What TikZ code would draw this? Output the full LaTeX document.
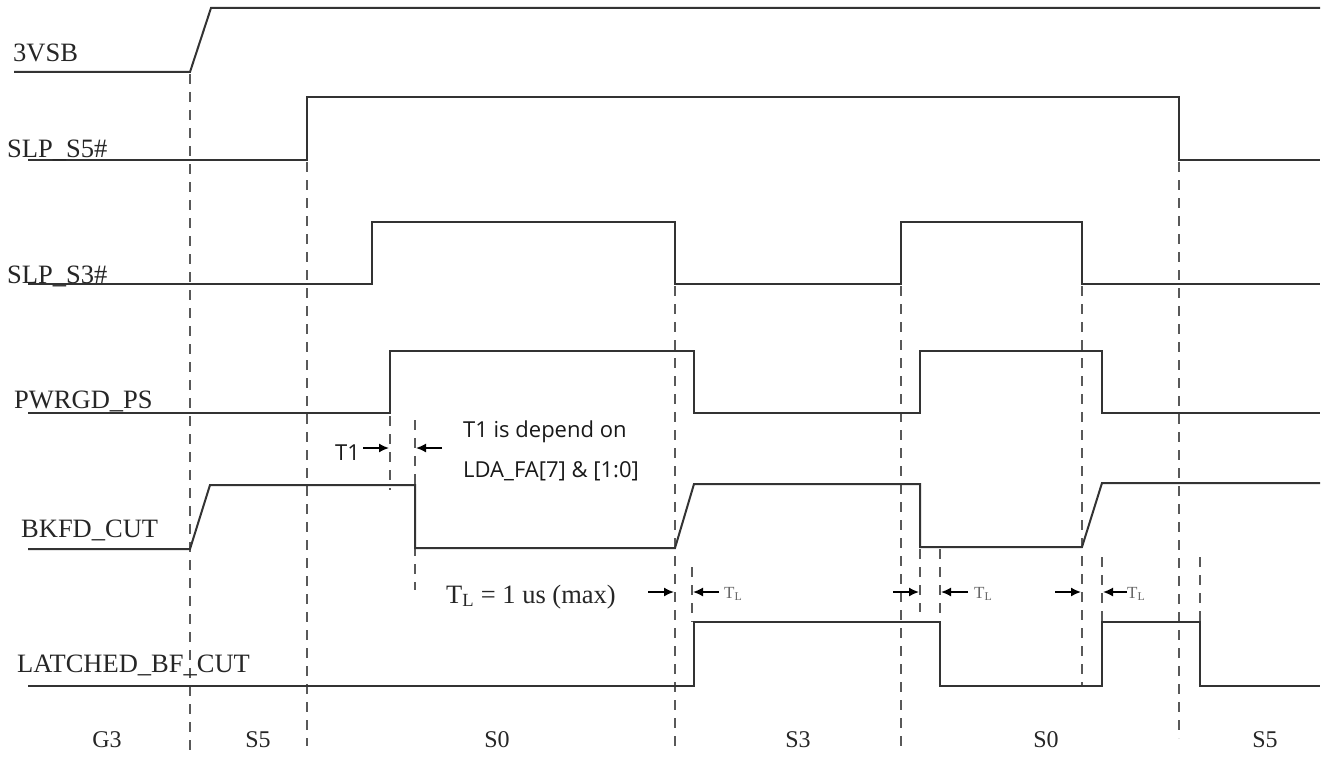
\documentclass[tikz,border=0pt]{standalone}
\usepackage{fontspec}
\setmainfont{Liberation Serif}
\newfontfamily\sansT{Open Sans}
\usetikzlibrary{arrows.meta}
\tikzset{
  sig/.style={line width=2pt, draw=black!80, line join=miter},
  guide/.style={line width=2pt, draw=black!65, dash pattern=on 10pt off 8pt},
  marker/.style={line width=1.6pt, draw=black, -{Latex[length=10pt,width=9pt]}},
  siglabel/.style={anchor=base west, inner sep=0pt, text=black!85, font=\fontsize{26.5}{30}\selectfont},
  statelabel/.style={anchor=base, inner sep=0pt, text=black!85, font=\fontsize{24}{28}\selectfont},
  note/.style={anchor=base west, inner sep=0pt, text=black!90, font=\sansT\fontsize{22}{26}\selectfont},
  tl/.style={anchor=base west, inner sep=0pt, text=black!60, font=\fontsize{17}{19}\selectfont}
}
\begin{document}
\begin{tikzpicture}[x=1pt,y=-1pt]
\useasboundingbox (0,0) rectangle (1323,760);
% guide (dashed) lines
\draw[guide] (190,74) -- (190,750);
\draw[guide] (307,162) -- (307,746);
\draw[guide] (390,416) -- (390,490);
\draw[guide] (415,420) -- (415,590);
\draw[guide] (675,286) -- (675,750);
\draw[guide] (692,567) -- (692,622);
\draw[guide] (901,286) -- (901,750);
\draw[guide] (920,549) -- (920,612);
\draw[guide] (940,549) -- (940,622);
\draw[guide] (1082,286) -- (1082,686);
\draw[guide] (1102,557) -- (1102,622);
\draw[guide] (1179,162) -- (1179,738);
\draw[guide] (1200,557) -- (1200,622);
% signals
\draw[sig] (14,72) -- (190,72) -- (211,8) -- (1320,8);
\draw[sig] (28,160) -- (307,160) -- (307,97) -- (1179,97) -- (1179,160) -- (1320,160);
\draw[sig] (28,284) -- (372,284) -- (372,222) -- (675,222) -- (675,284) -- (901,284) -- (901,222) -- (1082,222) -- (1082,284) -- (1320,284);
\draw[sig] (28,413) -- (390,413) -- (390,351) -- (694,351) -- (694,413) -- (920,413) -- (920,351) -- (1102,351) -- (1102,413) -- (1320,413);
\draw[sig] (28,549) -- (190,549) -- (210,485) -- (415,485) -- (415,548) -- (675,548) -- (694,484) -- (920,484) -- (920,547) -- (1082,547) -- (1102,483) -- (1320,483);
\draw[sig] (28,686) -- (694,686) -- (694,622) -- (940,622) -- (940,686) -- (1102,686) -- (1102,622) -- (1200,622) -- (1200,686) -- (1320,686);
% signal labels
\node[siglabel] (l3vsb) at (13,62) {3VSB};
\node[siglabel] (ls5) at (7,157) {SLP\_S5\#};
\node[siglabel] (ls3) at (7,283) {SLP\_S3\#};
\node[siglabel] (lpw) at (14,408) {PWRGD\_PS};
\node[siglabel] (lbk) at (21,537) {BKFD\_CUT};
\node[siglabel] (lla) at (17,672) {LATCHED\_BF\_CUT};
% state labels
\node[statelabel] (sg3) at (107,747) {G3};
\node[statelabel] (ss5a) at (258,747) {S5};
\node[statelabel] (ss0a) at (497,747) {S0};
\node[statelabel] (ss3) at (798,747) {S3};
\node[statelabel] (ss0b) at (1046,747) {S0};
\node[statelabel] (ss5b) at (1265,747) {S5};
% T1 annotation
\node[note] (t1) at (335,460) {T1};
\coordinate (t1a) at (363,448);
\coordinate (t1b) at (389,448);
\coordinate (t1c) at (442,448);
\coordinate (t1d) at (416,448);
\draw[marker] (t1a) -- (t1b);
\draw[marker] (t1c) -- (t1d);
\node[note] (t1n1) at (463,437) {T1 is depend on};
\node[note] (t1n2) at (463,477) {LDA\_FA[7] \& [1:0]};
% T_L annotations
\node[anchor=base west, inner sep=0pt, text=black!85, font=\fontsize{26.5}{30}\selectfont] (tlmain) at (446,603) {T\textsubscript{L} = 1 us (max)};
\coordinate (a1s) at (648,592); \coordinate (a1e) at (674,592);
\coordinate (a2s) at (719,592); \coordinate (a2e) at (693,592);
\draw[marker] (a1s) -- (a1e);
\draw[marker] (a2s) -- (a2e);
\node[tl] (tl1) at (724,598) {T\textsubscript{L}};
\coordinate (b1s) at (893,592); \coordinate (b1e) at (919,592);
\coordinate (b2s) at (968,592); \coordinate (b2e) at (941,592);
\draw[marker] (b1s) -- (b1e);
\draw[marker] (b2s) -- (b2e);
\node[tl] (tl2) at (974,598) {T\textsubscript{L}};
\coordinate (c1s) at (1055,592); \coordinate (c1e) at (1081,592);
\coordinate (c2s) at (1127,592); \coordinate (c2e) at (1103,592);
\draw[marker] (c1s) -- (c1e);
\draw[marker] (c2s) -- (c2e);
\node[tl] (tl3) at (1127,598) {T\textsubscript{L}};
\end{tikzpicture}
\end{document}
